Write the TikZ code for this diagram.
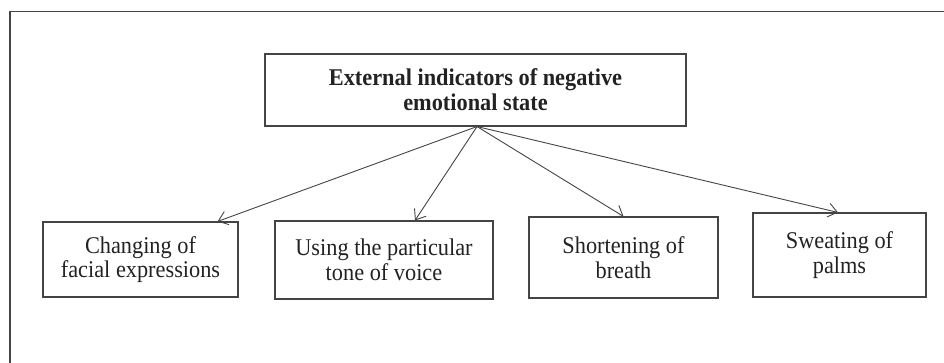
\documentclass[tikz,border=0pt]{standalone}
\usepackage{fontspec}
\setmainfont{Liberation Serif}[FakeStretch=0.93]
\usetikzlibrary{arrows.meta}
\definecolor{ink}{HTML}{222222}
\definecolor{rule}{HTML}{444444}
\begin{document}
\begin{tikzpicture}[x=1pt,y=-1pt,
  box/.style={draw=rule,line width=1.1pt,align=center,inner sep=0pt,
    text=ink,font=\fontsize{24}{24.5}\selectfont},
  link/.style={draw=rule,line width=0.9pt,
    -{Straight Barb[length=9pt,width=14pt,line width=0.9pt]}}]
\useasboundingbox (0,0) rectangle (944,362);
% open frame around the chart
\draw[rule,line width=1.3pt] (10,370) -- (10,11.5) -- (950,11.5);
% heading box
\node[box,minimum width=421pt,minimum height=72pt,
  font=\fontsize{24}{25}\selectfont\bfseries] (top) at (475.5,90)
  {External indicators of negative\\emotional state};
% indicator boxes
\node[box,minimum width=195pt,minimum height=75pt] (b1) at (140.5,259.5)
  {Changing of\\facial expressions};
\node[box,minimum width=218pt,minimum height=78pt] (b2) at (384,260)
  {Using the particular\\tone of voice};
\node[box,minimum width=189pt,minimum height=81pt] (b3) at (623.5,257.5)
  {Shortening of\\breath};
\node[box,minimum width=173pt,minimum height=84pt] (b4) at (839.5,255)
  {Sweating of\\palms};
% connectors
\coordinate (src) at ([xshift=1.5pt]top.south);
\draw[link] (src) -- ([xshift=-21pt]b1.north east);
\draw[link] (src) -- ([xshift=31pt]b2.north);
\draw[link] (src) -- (b3.north);
\draw[link] (src) -- ([xshift=-1.5pt]b4.north);
\end{tikzpicture}
\end{document}
